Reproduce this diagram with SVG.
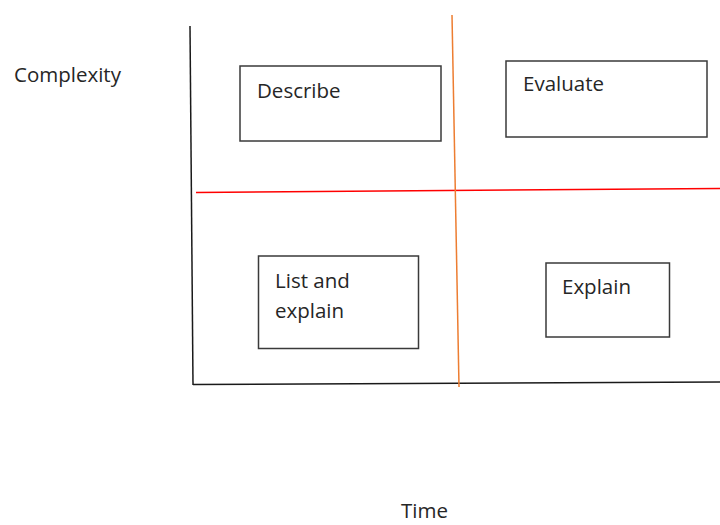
<svg xmlns="http://www.w3.org/2000/svg" width="720" height="525" viewBox="0 0 720 525">
<style>
.box{fill:#fff;stroke:#3a3a3a;stroke-width:1.5}
.t{font-family:"Open Sans","Liberation Sans",Arial,sans-serif;font-size:20.5px;fill:#262626}
.axis{stroke:#1a1a1a;stroke-width:1.5;fill:none}
</style>
<rect width="720" height="525" fill="#fff"/>
<g id="connectors">
<line class="axis" x1="190" y1="26" x2="193" y2="385"/>
<line class="axis" x1="193" y1="384.5" x2="720" y2="382"/>
<line x1="196" y1="192.5" x2="720" y2="188.5" stroke="#ff0000" stroke-width="1.5"/>
<line x1="452" y1="15" x2="459" y2="387" stroke="#ed7d31" stroke-width="1.5"/>
</g>
<g id="label-complexity"><text class="t" x="14" y="82">Complexity</text></g>
<g id="label-time"><text class="t" x="401" y="518">Time</text></g>
<g id="describe">
<rect class="box" x="240" y="66" width="201" height="75"/>
<text class="t" x="257" y="98">Describe</text>
</g>
<g id="evaluate">
<rect class="box" x="506" y="61" width="201" height="76"/>
<text class="t" x="523" y="91">Evaluate</text>
</g>
<g id="list-and-explain">
<rect class="box" x="258.5" y="256" width="160" height="92.5"/>
<text class="t" x="275" y="288">List and</text>
<text class="t" x="275" y="318">explain</text>
</g>
<g id="explain">
<rect class="box" x="546" y="263" width="123.5" height="74"/>
<text class="t" x="562" y="294">Explain</text>
</g>
</svg>
